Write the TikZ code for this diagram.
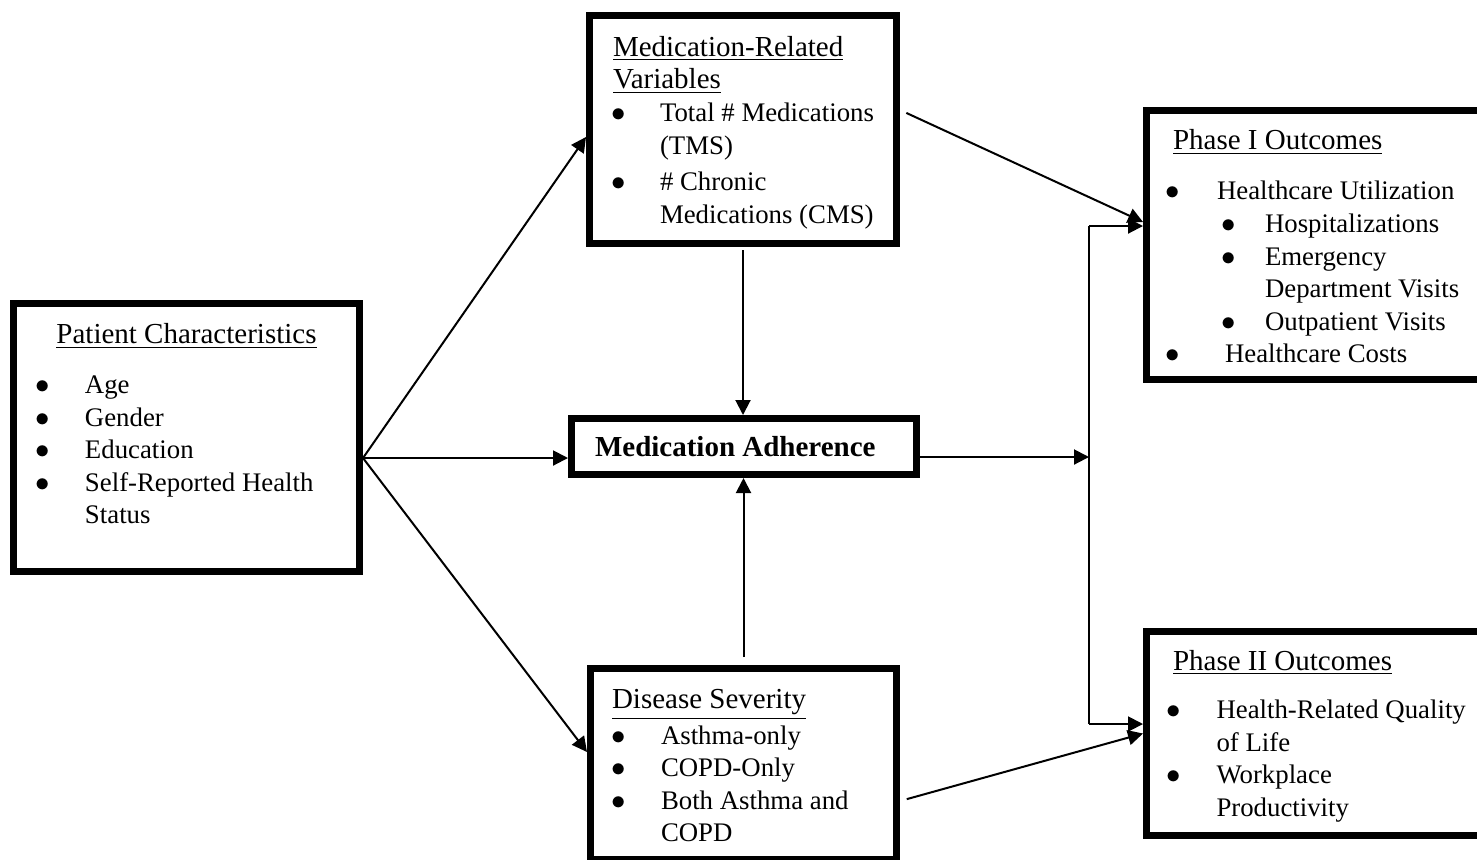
\documentclass[tikz,border=0pt]{standalone}
\usepackage{fontspec}
\setmainfont{Liberation Serif}
\usetikzlibrary{arrows.meta,calc}

\newcommand{\bul}{$\bullet$}
\newcommand{\blist}[3]{{\fontsize{13.4}{16.3}\selectfont
  \begin{tabular}[t]{@{\hspace{#1}}p{#2}@{}l@{}}#3\end{tabular}}}

\begin{document}
\begin{tikzpicture}[x=0.5pt, y=-0.5pt, >={Triangle[length=7.5pt,width=7.5pt]},
    box/.style={draw, line width=3.5pt, inner sep=0pt, anchor=north west,
      font=\fontsize{14.5}{16.3}\selectfont},
    link/.style={line width=1pt}]
  \clip (0,0) rectangle (1477,859);
  \node[box] at (10,300) (pc) {\parbox[c][134pt][t]{173pt}{\vspace*{8.8pt}%
    \centering\underline{Patient Characteristics}\strut\par
    \vspace{8.5pt}\raggedright
    \blist{11pt}{24.75pt}{\bul & Age\\ \bul & Gender\\ \bul & Education\\
      \bul & Self-Reported Health\\ & Status}}};
  \node[box] at (586,12) (mr) {\parbox[c][114pt][t]{153.5pt}{\vspace*{9pt}%
    \hspace*{11.75pt}\underline{Medication-Related}\strut\\
    \hspace*{11.75pt}\underline{Variables}\strut\par
    \blist{11pt}{24.25pt}{\bul & Total \# Medications\\ & (TMS)\\[2pt]
      \bul & \# Chronic\\ & Medications (CMS)}}};
  \node[box] at (568,415) (ma) {\parbox[c][28pt][c]{172.5pt}{%
    \hspace*{11.75pt}\textbf{Medication Adherence}}};
  \node[box] at (587,665) (ds) {\parbox[c][95.5pt][t]{153pt}{\vspace*{8.8pt}%
    \hspace*{10.75pt}\underline{Disease Severity}\strut\par
    \blist{10.5pt}{24.75pt}{\bul & Asthma-only\\ \bul & COPD-Only\\
      \bul & Both Asthma and\\ & COPD}}};
  \node[box] at (1143,107) (p1) {\parbox[c][134.5pt][t]{171.75pt}{\vspace*{8.3pt}%
    \hspace*{13.25pt}\underline{Phase I Outcomes}\strut\par
    \vspace{8.7pt}
    \blist{9.5pt}{25.75pt}{\bul & Healthcare Utilization\\
      & \hspace*{2.2pt}\makebox[21.8pt][l]{\bul}Hospitalizations\\
      & \hspace*{2.2pt}\makebox[21.8pt][l]{\bul}Emergency\\
      & \hspace*{24pt}Department Visits\\
      & \hspace*{2.2pt}\makebox[21.8pt][l]{\bul}Outpatient Visits\\
      \bul & \hspace*{4pt}Healthcare Costs}}};
  \node[box] at (1143,628) (p2) {\parbox[c][102pt][t]{171.75pt}{\vspace*{7.9pt}%
    \hspace*{13.25pt}\underline{Phase II Outcomes}\strut\par
    \vspace{8pt}
    \blist{10pt}{25pt}{\bul & Health-Related Quality\\ & of Life\\
      \bul & Workplace\\ & Productivity}}};
  \coordinate (pcout) at ([yshift=-10.25pt]pc.east);
  \coordinate (maout) at ([yshift=-5.25pt]ma.east);
  \coordinate (j1) at (1089,226);
  \coordinate (j2) at (1089,724);
  \draw[link,->] (pcout) -- ([yshift=-3.75pt]mr.west);
  \draw[link,->] (pcout) -- (pcout -| ma.west);
  \draw[link,->] (pcout) -- ([yshift=6pt]ds.west);
  \draw[link,->,shorten <=1.5pt] (mr.south) -- (mr.south |- ma.north);
  \draw[link,->,shorten <=4pt] (ds.north) -- (ds.north |- ma.south);
  \draw[link,->] (maout) -- (maout -| j1);
  \draw[link] (j1) -- (j2);
  \draw[link,->] (j1) -- (j1 -| p1.west);
  \draw[link,->] (j2) -- (j2 -| p2.west);
  \draw[link,->,shorten <=3.5pt] ([yshift=9.75pt]mr.east) -- ([yshift=11.5pt]p1.west);
  \draw[link,->,shorten <=3.5pt] ([yshift=-18.5pt]ds.east) -- (p2.west);
\end{tikzpicture}
\end{document}
